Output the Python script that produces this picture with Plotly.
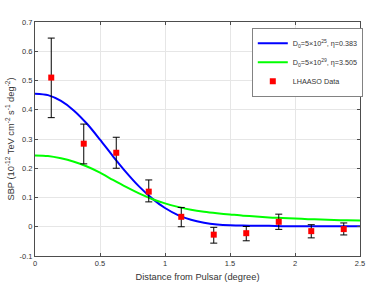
import plotly.graph_objects as go

# Data points (LHAASO)
data_x = [0.125, 0.375, 0.625, 0.875, 1.125, 1.375, 1.625, 1.875, 2.125, 2.375]
data_y = [0.510, 0.284, 0.253, 0.120, 0.034, -0.027, -0.022, 0.017, -0.015, -0.008]
err_hi = [0.645, 0.351, 0.306, 0.160, 0.066, -0.002, 0.001, 0.043, 0.007, 0.013]
err_lo = [0.373, 0.215, 0.200, 0.085, 0.000, -0.056, -0.048, -0.009, -0.038, -0.028]

# Model curves
curve_x = [0.0, 0.1, 0.2, 0.3, 0.4, 0.5, 0.6, 0.7, 0.8, 0.9, 1.0, 1.1, 1.2, 1.3,
           1.4, 1.5, 1.6, 1.7, 1.8, 1.9, 2.0, 2.1, 2.2, 2.3, 2.4, 2.5]
blue_y = [0.455, 0.450, 0.430, 0.397, 0.352, 0.298, 0.241, 0.187, 0.138, 0.097,
          0.064, 0.040, 0.024, 0.014, 0.008, 0.005, 0.004, 0.003, 0.003, 0.002,
          0.002, 0.002, 0.002, 0.002, 0.002, 0.002]
green_y = [0.244, 0.242, 0.234, 0.222, 0.206, 0.185, 0.160, 0.136, 0.114, 0.095,
           0.080, 0.068, 0.058, 0.051, 0.046, 0.042, 0.038, 0.035, 0.032, 0.030,
           0.028, 0.026, 0.025, 0.023, 0.022, 0.021]

x_ticks = [0, 0.5, 1, 1.5, 2, 2.5]
x_tick_labels = ["0", "0.5", "1", "1.5", "2", "2.5"]
y_ticks = [-0.1, 0, 0.1, 0.2, 0.3, 0.4, 0.5, 0.6, 0.7]
y_tick_labels = ["-0.1", "0", "0.1", "0.2", "0.3", "0.4", "0.5", "0.6", "0.7"]

FONT = "Liberation Sans, Arial, sans-serif"
AX = "#4d4d4d"
TXT = "#333333"

fig = go.Figure()
fig.add_trace(go.Scatter(
    x=curve_x, y=blue_y, mode="lines",
    line=dict(color="#0000ff", width=2, shape="spline", smoothing=0.8),
    name="D<sub>0</sub>=5×10<sup>25</sup>, η=0.383"))
fig.add_trace(go.Scatter(
    x=curve_x, y=green_y, mode="lines",
    line=dict(color="#00ff00", width=2, shape="spline", smoothing=0.8),
    name="D<sub>0</sub>=5×10<sup>29</sup>, η=3.505"))
fig.add_trace(go.Scatter(
    x=data_x, y=data_y, mode="markers",
    marker=dict(color="#ff0000", symbol="square", size=6),
    error_y=dict(type="data", symmetric=False,
                 array=[h - y for h, y in zip(err_hi, data_y)],
                 arrayminus=[y - l for l, y in zip(err_lo, data_y)],
                 color="#000000", thickness=1, width=3.5),
    name="LHAASO Data"))

axis_common = dict(showline=True, linecolor=AX, linewidth=1, mirror="ticks",
                   ticks="inside", ticklen=3, tickcolor=AX, automargin=False,
                   showgrid=True, gridcolor="#e6e6e6", gridwidth=1,
                   zeroline=False, tickfont=dict(family=FONT, size=7.5, color=TXT))

fig.update_layout(
    width=382, height=286,
    margin=dict(l=35, r=22, t=22, b=30),
    paper_bgcolor="white", plot_bgcolor="white",
    font=dict(family=FONT, size=8, color=TXT),
    xaxis=dict(range=[0, 2.5], tickvals=x_ticks, ticktext=x_tick_labels,
               title=dict(text="Distance from Pulsar (degree)", standoff=6,
                          font=dict(family=FONT, size=9.3, color=TXT)),
               **axis_common),
    yaxis=dict(range=[-0.1, 0.7], tickvals=y_ticks, ticktext=y_tick_labels,
               title=dict(text="SBP (10<sup>-12</sup> TeV cm<sup>-2</sup> s<sup>-1</sup> deg<sup>-2</sup>)",
                          standoff=3, font=dict(family=FONT, size=9.3, color=TXT)),
               **axis_common),
    legend=dict(x=0.668, y=0.974, xanchor="left", yanchor="top",
                bgcolor="white", bordercolor=AX, borderwidth=0.7,
                font=dict(family=FONT, size=7.2, color=TXT),
                itemwidth=30, tracegroupgap=0),
    showlegend=True,
)

fig.write_html("out.html", config={"displayModeBar": False},
               post_script="document.body.style.margin='0';document.body.style.overflow='hidden';")
